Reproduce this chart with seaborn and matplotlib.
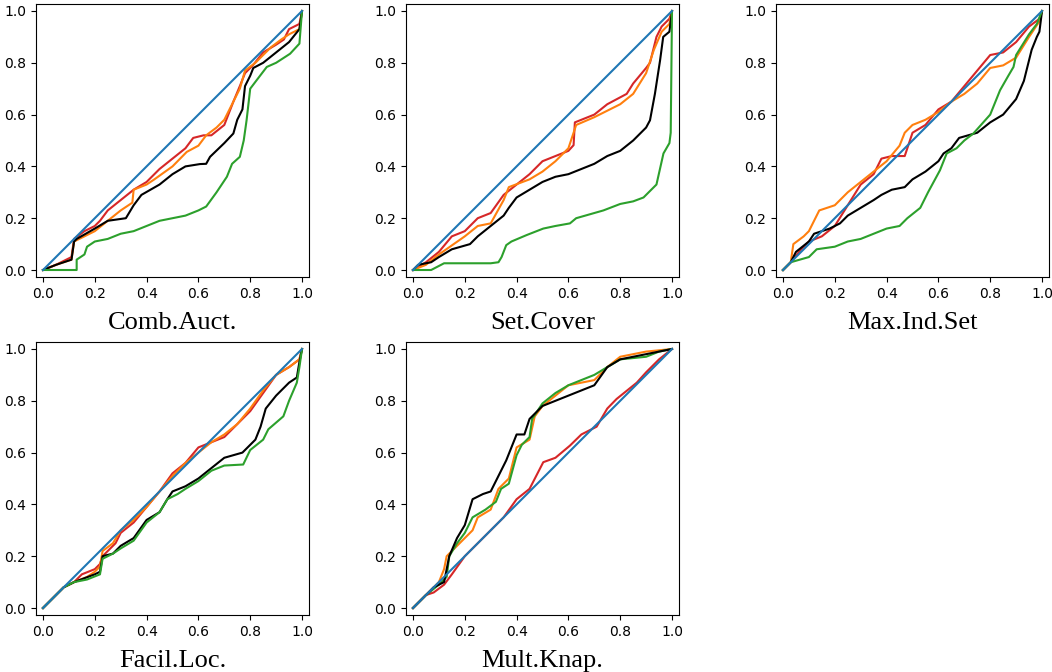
import numpy as np
import pandas as pd
import matplotlib
matplotlib.use("Agg")
import matplotlib.pyplot as plt
import seaborn as sns

TITLES = ["Comb.Auct.", "Set.Cover", "Max.Ind.Set", "Facil.Loc.", "Mult.Knap."]
COLORS = {"red": "tab:red", "orange": "tab:orange", "green": "tab:green",
          "black": "black", "diag": "tab:blue"}
TICKS = [0.0, 0.2, 0.4, 0.6, 0.8, 1.0]

# ---- Comb.Auct. ----
ca_red_x = [0, 0.05, 0.11, 0.12, 0.16, 0.2, 0.22, 0.25, 0.3, 0.35, 0.4, 0.43, 0.45, 0.5, 0.55, 0.58, 0.62, 0.65, 0.7, 0.735, 0.76, 0.78, 0.81, 0.85, 0.9, 0.93, 0.95, 0.98, 0.99, 1.0]
ca_red_y = [0, 0.02, 0.05, 0.12, 0.15, 0.17, 0.19, 0.23, 0.27, 0.31, 0.34, 0.37, 0.39, 0.43, 0.47, 0.51, 0.52, 0.52, 0.56, 0.65, 0.71, 0.76, 0.79, 0.84, 0.87, 0.89, 0.93, 0.945, 0.95, 1.0]
ca_orange_x = [0, 0.05, 0.11, 0.12, 0.16, 0.2, 0.25, 0.3, 0.345, 0.35, 0.4, 0.43, 0.5, 0.555, 0.6, 0.63, 0.67, 0.7, 0.735, 0.76, 0.78, 0.82, 0.85, 0.88, 0.92, 0.95, 0.99, 1.0]
ca_orange_y = [0, 0.02, 0.04, 0.11, 0.13, 0.15, 0.19, 0.23, 0.26, 0.31, 0.33, 0.35, 0.40, 0.456, 0.48, 0.52, 0.55, 0.58, 0.65, 0.70, 0.77, 0.80, 0.83, 0.86, 0.89, 0.91, 0.93, 1.0]
ca_black_x = [0, 0.05, 0.11, 0.12, 0.13, 0.2, 0.25, 0.32, 0.35, 0.38, 0.45, 0.5, 0.55, 0.606, 0.63, 0.645, 0.7, 0.735, 0.75, 0.77, 0.78, 0.8, 0.812, 0.85, 0.9, 0.95, 0.99, 1.0]
ca_black_y = [0, 0.02, 0.04, 0.11, 0.12, 0.16, 0.19, 0.20, 0.25, 0.29, 0.33, 0.37, 0.40, 0.409, 0.41, 0.437, 0.49, 0.527, 0.58, 0.62, 0.71, 0.75, 0.78, 0.80, 0.84, 0.88, 0.93, 1.0]
ca_green_x = [0, 0.13, 0.13, 0.16, 0.17, 0.2, 0.25, 0.3, 0.35, 0.4, 0.45, 0.5, 0.55, 0.6, 0.63, 0.67, 0.71, 0.73, 0.76, 0.775, 0.786, 0.80, 0.825, 0.864, 0.9, 0.954, 0.99, 1.0]
ca_green_y = [0, 0, 0.04, 0.06, 0.09, 0.11, 0.12, 0.14, 0.15, 0.17, 0.19, 0.20, 0.21, 0.23, 0.245, 0.30, 0.36, 0.41, 0.437, 0.50, 0.578, 0.70, 0.733, 0.784, 0.80, 0.835, 0.874, 1.0]

# ---- Set.Cover ----
sc_red_x = [0, 0.05, 0.1, 0.15, 0.2, 0.25, 0.3, 0.35, 0.4, 0.45, 0.5, 0.55, 0.6, 0.62, 0.625, 0.7, 0.75, 0.825, 0.85, 0.9, 0.915, 0.94, 0.96, 0.99, 1.0]
sc_red_y = [0, 0.03, 0.07, 0.13, 0.15, 0.20, 0.22, 0.29, 0.33, 0.37, 0.42, 0.44, 0.46, 0.482, 0.57, 0.60, 0.64, 0.68, 0.72, 0.78, 0.80, 0.90, 0.94, 0.97, 1.0]
sc_orange_x = [0, 0.05, 0.1, 0.2, 0.25, 0.3, 0.35, 0.37, 0.45, 0.5, 0.55, 0.6, 0.63, 0.7, 0.8, 0.85, 0.9, 0.93, 0.96, 0.99, 1.0]
sc_orange_y = [0, 0.02, 0.06, 0.13, 0.17, 0.18, 0.27, 0.32, 0.35, 0.38, 0.42, 0.47, 0.56, 0.59, 0.64, 0.68, 0.76, 0.85, 0.92, 0.95, 1.0]
sc_black_x = [0, 0.02, 0.07, 0.1, 0.15, 0.22, 0.25, 0.3, 0.35, 0.37, 0.4, 0.45, 0.5, 0.55, 0.6, 0.65, 0.7, 0.75, 0.8, 0.85, 0.9, 0.915, 0.934, 0.954, 0.966, 0.99, 1.0]
sc_black_y = [0, 0.02, 0.03, 0.05, 0.08, 0.10, 0.13, 0.17, 0.21, 0.24, 0.28, 0.31, 0.34, 0.36, 0.37, 0.39, 0.41, 0.44, 0.46, 0.50, 0.55, 0.578, 0.68, 0.81, 0.90, 0.92, 1.0]
sc_green_x = [0, 0.07, 0.12, 0.2, 0.3, 0.33, 0.342, 0.36, 0.38, 0.439, 0.503, 0.55, 0.606, 0.63, 0.735, 0.8, 0.85, 0.89, 0.94, 0.967, 0.99, 0.995, 1.0]
sc_green_y = [0, 0.0, 0.026, 0.026, 0.026, 0.03, 0.05, 0.096, 0.11, 0.135, 0.16, 0.17, 0.18, 0.20, 0.23, 0.255, 0.265, 0.28, 0.33, 0.45, 0.49, 0.53, 1.0]

# ---- Max.Ind.Set ----
mis_red_x = [0, 0.03, 0.07, 0.1, 0.15, 0.2, 0.25, 0.3, 0.35, 0.38, 0.42, 0.47, 0.5, 0.55, 0.6, 0.65, 0.7, 0.75, 0.8, 0.85, 0.9, 0.95, 0.99, 1.0]
mis_red_y = [0, 0.03, 0.08, 0.11, 0.13, 0.17, 0.25, 0.33, 0.37, 0.43, 0.44, 0.44, 0.53, 0.56, 0.62, 0.65, 0.71, 0.77, 0.83, 0.84, 0.88, 0.94, 0.97, 1.0]
mis_orange_x = [0, 0.03, 0.04, 0.08, 0.1, 0.14, 0.2, 0.25, 0.3, 0.35, 0.4, 0.45, 0.47, 0.5, 0.55, 0.6, 0.65, 0.7, 0.75, 0.8, 0.85, 0.9, 0.95, 0.99, 1.0]
mis_orange_y = [0, 0.03, 0.10, 0.13, 0.15, 0.23, 0.25, 0.30, 0.34, 0.38, 0.42, 0.48, 0.53, 0.56, 0.58, 0.61, 0.65, 0.68, 0.72, 0.78, 0.79, 0.82, 0.90, 0.96, 1.0]
mis_black_x = [0, 0.03, 0.05, 0.1, 0.12, 0.18, 0.22, 0.25, 0.3, 0.35, 0.38, 0.42, 0.47, 0.5, 0.55, 0.6, 0.62, 0.65, 0.68, 0.75, 0.8, 0.85, 0.9, 0.93, 0.96, 0.98, 0.99, 1.0]
mis_black_y = [0, 0.03, 0.07, 0.11, 0.14, 0.16, 0.18, 0.21, 0.24, 0.27, 0.29, 0.31, 0.32, 0.35, 0.38, 0.42, 0.45, 0.47, 0.51, 0.53, 0.57, 0.60, 0.66, 0.73, 0.85, 0.90, 0.92, 1.0]
mis_green_x = [0, 0.03, 0.1, 0.13, 0.2, 0.25, 0.3, 0.35, 0.4, 0.45, 0.48, 0.53, 0.56, 0.606, 0.632, 0.67, 0.7, 0.735, 0.8, 0.838, 0.87, 0.89, 0.9, 0.95, 0.98, 1.0]
mis_green_y = [0, 0.03, 0.05, 0.08, 0.09, 0.11, 0.12, 0.14, 0.16, 0.17, 0.20, 0.24, 0.30, 0.385, 0.45, 0.47, 0.50, 0.527, 0.60, 0.694, 0.75, 0.784, 0.83, 0.91, 0.95, 1.0]

# ---- Facil.Loc. ----
fl_red_x = [0, 0.08, 0.12, 0.15, 0.2, 0.22, 0.23, 0.28, 0.3, 0.35, 0.4, 0.45, 0.5, 0.55, 0.6, 0.65, 0.7, 0.75, 0.8, 0.85, 0.9, 0.95, 0.99, 1.0]
fl_red_y = [0, 0.08, 0.10, 0.13, 0.15, 0.17, 0.20, 0.25, 0.29, 0.33, 0.39, 0.45, 0.52, 0.56, 0.62, 0.64, 0.66, 0.71, 0.76, 0.83, 0.90, 0.93, 0.96, 1.0]
fl_orange_x = [0, 0.08, 0.12, 0.17, 0.2, 0.22, 0.23, 0.27, 0.3, 0.35, 0.4, 0.45, 0.5, 0.55, 0.6, 0.65, 0.7, 0.75, 0.8, 0.85, 0.9, 0.95, 0.99, 1.0]
fl_orange_y = [0, 0.08, 0.10, 0.12, 0.14, 0.16, 0.22, 0.25, 0.30, 0.34, 0.39, 0.45, 0.51, 0.56, 0.60, 0.64, 0.67, 0.71, 0.77, 0.84, 0.90, 0.93, 0.96, 1.0]
fl_black_x = [0, 0.08, 0.12, 0.2, 0.22, 0.23, 0.27, 0.3, 0.35, 0.4, 0.45, 0.48, 0.5, 0.55, 0.6, 0.65, 0.7, 0.77, 0.82, 0.84, 0.86, 0.9, 0.95, 0.98, 0.99, 1.0]
fl_black_y = [0, 0.08, 0.10, 0.13, 0.14, 0.20, 0.21, 0.24, 0.27, 0.34, 0.37, 0.42, 0.45, 0.47, 0.50, 0.54, 0.58, 0.60, 0.65, 0.70, 0.77, 0.82, 0.87, 0.89, 0.95, 1.0]
fl_green_x = [0, 0.08, 0.12, 0.17, 0.22, 0.23, 0.27, 0.3, 0.35, 0.4, 0.45, 0.48, 0.52, 0.55, 0.6, 0.65, 0.7, 0.773, 0.8, 0.85, 0.87, 0.928, 0.95, 0.98, 0.99, 1.0]
fl_green_y = [0, 0.08, 0.10, 0.11, 0.13, 0.19, 0.21, 0.23, 0.26, 0.33, 0.37, 0.42, 0.44, 0.46, 0.49, 0.53, 0.55, 0.554, 0.61, 0.65, 0.69, 0.74, 0.80, 0.87, 0.93, 1.0]

# ---- Mult.Knap. ----
mk_red_x = [0, 0.05, 0.08, 0.12, 0.15, 0.2, 0.25, 0.3, 0.35, 0.4, 0.45, 0.503, 0.55, 0.606, 0.65, 0.709, 0.75, 0.786, 0.864, 0.9, 0.95, 1.0]
mk_red_y = [0, 0.05, 0.06, 0.09, 0.13, 0.20, 0.25, 0.30, 0.35, 0.42, 0.46, 0.563, 0.58, 0.627, 0.67, 0.70, 0.77, 0.807, 0.87, 0.91, 0.96, 1.0]
mk_orange_x = [0, 0.05, 0.1, 0.12, 0.13, 0.15, 0.2, 0.23, 0.25, 0.3, 0.33, 0.37, 0.4, 0.45, 0.47, 0.5, 0.55, 0.6, 0.7, 0.75, 0.8, 0.9, 1.0]
mk_orange_y = [0, 0.05, 0.10, 0.15, 0.20, 0.22, 0.27, 0.30, 0.35, 0.38, 0.46, 0.50, 0.62, 0.65, 0.74, 0.78, 0.82, 0.86, 0.88, 0.93, 0.97, 0.99, 1.0]
mk_green_x = [0, 0.05, 0.1, 0.13, 0.14, 0.17, 0.2, 0.23, 0.28, 0.32, 0.34, 0.37, 0.4, 0.42, 0.45, 0.46, 0.5, 0.55, 0.6, 0.65, 0.7, 0.75, 0.8, 0.9, 0.95, 1.0]
mk_green_y = [0, 0.05, 0.09, 0.12, 0.20, 0.25, 0.29, 0.35, 0.38, 0.41, 0.46, 0.48, 0.59, 0.63, 0.66, 0.73, 0.79, 0.83, 0.86, 0.88, 0.90, 0.93, 0.96, 0.97, 0.99, 1.0]
mk_black_x = [0, 0.05, 0.08, 0.12, 0.14, 0.17, 0.2, 0.23, 0.27, 0.3, 0.33, 0.36, 0.4, 0.43, 0.45, 0.47, 0.5, 0.55, 0.6, 0.65, 0.7, 0.75, 0.8, 0.9, 1.0]
mk_black_y = [0, 0.05, 0.08, 0.10, 0.20, 0.27, 0.32, 0.42, 0.44, 0.45, 0.51, 0.57, 0.67, 0.67, 0.73, 0.75, 0.78, 0.80, 0.82, 0.84, 0.86, 0.93, 0.96, 0.98, 1.0]

diag_x = [0.0, 1.0]
diag_y = [0.0, 1.0]

panels = [
    {"red": (ca_red_x, ca_red_y), "orange": (ca_orange_x, ca_orange_y),
     "black": (ca_black_x, ca_black_y), "green": (ca_green_x, ca_green_y)},
    {"red": (sc_red_x, sc_red_y), "orange": (sc_orange_x, sc_orange_y),
     "black": (sc_black_x, sc_black_y), "green": (sc_green_x, sc_green_y)},
    {"red": (mis_red_x, mis_red_y), "orange": (mis_orange_x, mis_orange_y),
     "black": (mis_black_x, mis_black_y), "green": (mis_green_x, mis_green_y)},
    {"red": (fl_red_x, fl_red_y), "orange": (fl_orange_x, fl_orange_y),
     "black": (fl_black_x, fl_black_y), "green": (fl_green_x, fl_green_y)},
    {"red": (mk_red_x, mk_red_y), "orange": (mk_orange_x, mk_orange_y),
     "green": (mk_green_x, mk_green_y), "black": (mk_black_x, mk_black_y)},
]

fig = plt.figure(figsize=(10.52, 6.72), dpi=100)

W = 273 / 1052
H = 273 / 672
lefts = [36 / 1052, 406 / 1052, 776 / 1052]
bottoms = [1 - 277 / 672, 1 - 615 / 672]

for i, (title, curves) in enumerate(zip(TITLES, panels)):
    row, col = divmod(i, 3)
    ax = fig.add_axes([lefts[col], bottoms[row], W, H])
    for name, (xs, ys) in curves.items():
        df = pd.DataFrame({"x": xs, "y": ys})
        sns.lineplot(data=df, x="x", y="y", ax=ax, color=COLORS[name],
                     sort=False, estimator=None, lw=1.5)
    sns.lineplot(x=diag_x, y=diag_y, ax=ax, color=COLORS["diag"],
                 sort=False, estimator=None, lw=1.5)
    ax.set_xlim(-0.027, 1.027)
    ax.set_ylim(-0.027, 1.027)
    ax.set_xticks(TICKS)
    ax.set_yticks(TICKS)
    ax.set_ylabel("")
    ax.set_xlabel(title, fontsize=19, family="Liberation Serif", labelpad=8)

fig.savefig("out.png", dpi=100)
